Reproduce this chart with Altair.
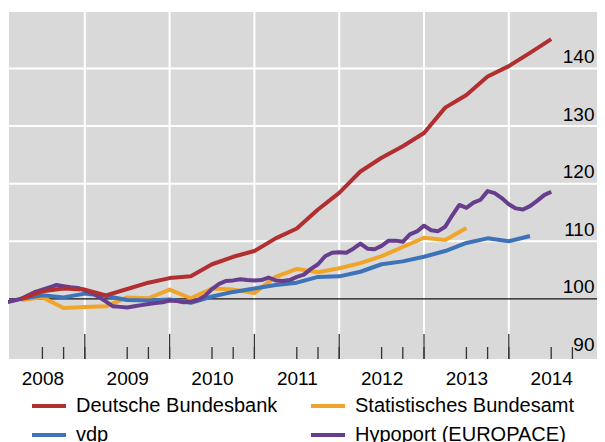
import altair as alt
import pandas as pd

# ---- data (index, 2008 Q1 = 100) ----
series_names = ["Deutsche Bundesbank", "vdp", "Statistisches Bundesamt", "Hypoport (EUROPACE)"]
series_colors = ["#B22F30", "#3D73B9", "#F0A42A", "#673D8E"]

quarters = [f"{y}-Q{q}" for y in range(2008, 2015) for q in range(1, 5)]
months = [f"{y}-{m:02d}" for y in range(2008, 2015) for m in range(1, 13)]

bundesbank = [100.0, 101.3, 101.8, 101.6, 100.6, 101.7, 102.8, 103.6,
              103.9, 106.0, 107.3, 108.3, 110.5, 112.2, 115.5, 118.4,
              122.1, 124.5, 126.5, 128.8, 133.2, 135.4, 138.6, 140.4,
              142.7, 145.1]
destatis = [99.8, 100.25, 98.4, 98.6, 98.7, 100.25, 100.1, 101.6,
            100.1, 101.8, 101.6, 101.0, 103.8, 105.2, 104.6, 105.3,
            106.2, 107.4, 109.0, 110.6, 110.2, 112.3]
vdp = [100.0, 100.6, 100.25, 100.9, 100.5, 99.8, 99.7, 99.9,
       99.3, 100.4, 101.2, 101.8, 102.4, 102.8, 103.8, 103.9,
       104.7, 106.0, 106.5, 107.3, 108.3, 109.7, 110.5, 110.0,
       110.9]
hypoport = [99.4, 99.7, 100.0, 100.6, 101.2, 101.6, 102.0, 102.4, 102.2, 102.0, 101.9, 101.5,
            101.0, 100.3, 99.5, 98.7, 98.6, 98.5, 98.7, 98.9, 99.1, 99.25, 99.4, 99.7,
            99.6, 99.4, 99.5, 99.8, 100.5, 101.7, 102.6, 103.1, 103.2, 103.4, 103.25, 103.2,
            103.25, 103.7, 103.2, 103.1, 103.25, 103.8, 104.2, 105.2, 106.0, 107.4, 108.0, 108.1,
            108.0, 108.7, 109.6, 108.7, 108.6, 109.2, 110.1, 110.1, 109.9, 111.2, 111.7, 112.7,
            111.9, 111.75, 112.5, 114.5, 116.3, 115.8, 116.7, 117.2, 118.7, 118.35, 117.5, 116.4,
            115.7, 115.5, 116.1, 117.0, 118.0, 118.6]

y_labels = [90, 100, 110, 120, 130, 140]
y_grid = [110, 120, 130, 140]
year_lines = [2009, 2010, 2011, 2012, 2013, 2014]
year_labels = [2008, 2009, 2010, 2011, 2012, 2013, 2014]
minor_ticks = [f"{y}-Q{q}" for y in range(2008, 2015) for q in (2, 3, 4)][:-1]


def q_end(label):
    y, q = label.split("-Q")
    return int(y) + int(q) / 4


def m_end(label):
    y, m = label.split("-")
    return int(y) + int(m) / 12


rows = []
for name, vals in [("Statistisches Bundesamt", destatis),
                   ("vdp", vdp)]:
    for lab, v in zip(quarters, vals):
        rows.append({"series": name, "t": q_end(lab), "value": v})
for lab, v in zip(months, hypoport):
    rows.append({"series": "Hypoport (EUROPACE)", "t": m_end(lab), "value": v})
for lab, v in zip(quarters, bundesbank):
    rows.append({"series": "Deutsche Bundesbank", "t": q_end(lab), "value": v})
df = pd.DataFrame(rows)

W, H = 588, 347
FONT = "Liberation Sans"
xs = alt.Scale(domain=[2008.106, 2015.040], nice=False, zero=False)
ys = alt.Scale(domain=[89.55, 149.8], nice=False, zero=False)

base_x = alt.X("t:Q", scale=xs,
               axis=alt.Axis(values=[y + 0.5 for y in year_labels], labelExpr="floor(datum.value)",
                             ticks=False, domain=False, grid=False, title=None,
                             labelFontSize=19, labelFont=FONT, labelColor="#000",
                             labelPadding=10, labelFlush=False))

vgrid = alt.Chart(pd.DataFrame({"t": year_lines})).mark_rule(color="white", strokeWidth=2).encode(
    x=alt.X("t:Q", scale=xs))
hgrid = alt.Chart(pd.DataFrame({"v": y_grid})).mark_rule(color="white", strokeWidth=2).encode(
    y=alt.Y("v:Q", scale=ys))
base100 = alt.Chart(pd.DataFrame({"v": [100]})).mark_rule(color="#111", strokeWidth=1.3).encode(
    y=alt.Y("v:Q", scale=ys))

major = alt.Chart(pd.DataFrame({"t": year_lines})).mark_rule(color="#333", strokeWidth=1.3).encode(
    x=alt.X("t:Q", scale=xs), y=alt.value(H), y2=alt.value(H - 25))
minor = alt.Chart(pd.DataFrame({"t": [q_end(m) for m in minor_ticks]})).mark_rule(
    color="#333", strokeWidth=1.3).encode(
    x=alt.X("t:Q", scale=xs), y=alt.value(H), y2=alt.value(H - 12))

lines = alt.Chart(df).mark_line(strokeWidth=4, strokeJoin="round").encode(
    x=base_x,
    y=alt.Y("value:Q", scale=ys,
            axis=alt.Axis(orient="right", values=y_labels, ticks=False, tickSize=0, domain=False,
                          grid=False, title=None, labelAlign="right", labelPadding=-3,
                          labelBaseline="alphabetic", labelOffset=-6, labelFontSize=19,
                          labelFont=FONT, labelColor="#000")),
    color=alt.Color("series:N", sort=series_names,
                    scale=alt.Scale(domain=series_names, range=series_colors),
                    legend=alt.Legend(title=None, orient="none", legendX=21, legendY=375,
                                      columns=2, columnPadding=25, rowPadding=-13.5,
                                      symbolType="stroke", symbolSize=1156, symbolStrokeWidth=4,
                                      labelFontSize=20, labelFont=FONT, labelColor="#000",
                                      labelOffset=8, padding=0, labelLimit=400)),
    detail="series:N",
)

chart = alt.layer(vgrid, hgrid, base100, major, minor, lines).properties(
    width=W, height=H,
    autosize=alt.AutoSizeParams(type="none"),
    padding={"left": 1, "top": 4, "right": 0, "bottom": 83},
).configure_view(fill="#D9D9D9", strokeWidth=0)

chart.save("out.html", embed_options={"renderer": "svg", "actions": False})
